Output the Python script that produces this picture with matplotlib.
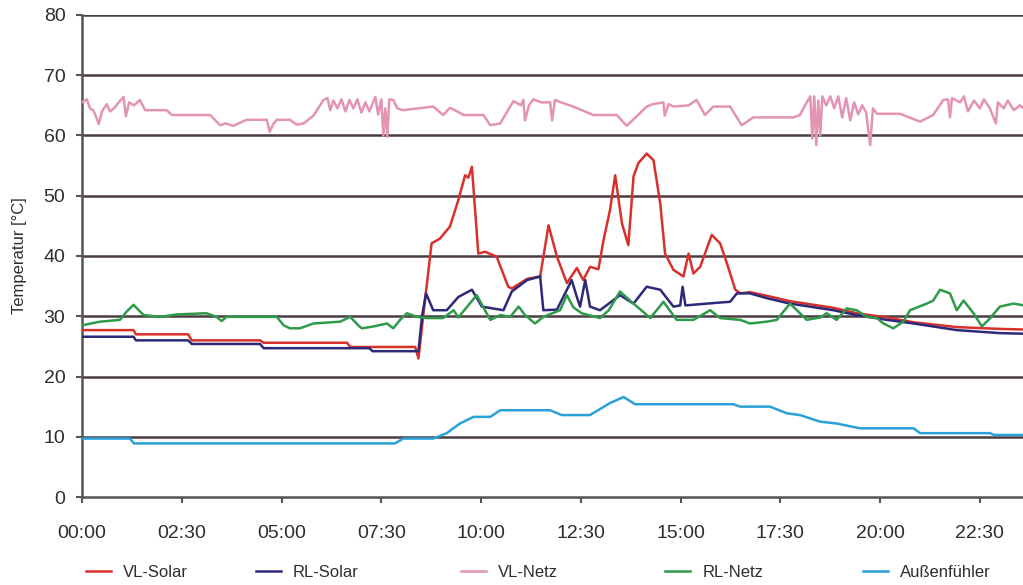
import matplotlib
matplotlib.use("Agg")
import matplotlib.pyplot as plt
from matplotlib.ticker import FixedLocator

plt.rcParams['font.family'] = ['Liberation Sans Narrow', 'Liberation Sans', 'DejaVu Sans']

# hours of the day and temperatures in degC
vl_solar_t = [0, 1.29, 1.35, 2.66, 2.75, 4.46, 4.55, 6.64, 6.72, 8.35, 8.43, 8.6, 8.76, 8.97,
              9.22, 9.43, 9.6, 9.68, 9.77, 9.93, 10.1, 10.39, 10.68, 10.77, 11.15, 11.48, 11.69,
              11.9, 12.15, 12.4, 12.56, 12.73, 12.94, 13.07, 13.23, 13.36, 13.53, 13.69, 13.82,
              13.94, 14.15, 14.32, 14.49, 14.61, 14.82, 15.07, 15.2, 15.32, 15.49, 15.78, 15.99,
              16.16, 16.37, 16.5, 16.74, 17.16, 17.74, 18.83, 19.41, 20.17, 20.84, 21.92, 23.0, 23.6]
vl_solar = [27.7, 27.7, 27.0, 27.0, 26.0, 26.0, 25.6, 25.6, 24.9, 24.9, 23.0, 33.0, 42.1, 42.9,
            44.9, 49.3, 53.4, 53.0, 54.8, 40.4, 40.7, 39.9, 34.9, 34.6, 36.2, 36.6, 45.1,
            39.9, 35.5, 38.0, 36.0, 38.2, 37.8, 42.7, 47.6, 53.4, 45.4, 41.8, 53.2,
            55.4, 57.0, 55.9, 48.7, 40.4, 37.7, 36.6, 40.4, 37.1, 38.2, 43.5, 42.1,
            38.8, 34.4, 33.8, 34.0, 33.4, 32.5, 31.4, 30.5, 29.8, 29.0, 28.2, 27.9, 27.8]

rl_solar_t = [0, 1.29, 1.35, 2.66, 2.75, 4.46, 4.55, 7.2, 7.28, 8.43, 8.52, 8.62, 8.8, 9.14,
              9.43, 9.77, 10.02, 10.56, 10.77, 11.15, 11.48, 11.56, 11.9, 12.15, 12.27, 12.4,
              12.48, 12.61, 12.73, 12.98, 13.48, 13.82, 14.15, 14.49, 14.82, 14.99, 15.05, 15.12,
              15.66, 16.24, 16.41, 16.74, 17.16, 17.74, 18.83, 19.41, 20.17, 20.84, 21.92, 23.0, 23.6]
rl_solar = [26.6, 26.6, 26.0, 26.0, 25.4, 25.4, 24.7, 24.7, 24.2, 24.2, 30.0, 33.8, 31.0, 31.0,
            33.2, 34.4, 31.6, 31.0, 34.1, 36.0, 36.6, 31.0, 31.1, 34.4, 36.0, 33.2,
            31.6, 36.0, 31.6, 31.0, 33.5, 32.1, 34.9, 34.4, 31.6, 31.8, 34.9, 31.8,
            32.1, 32.4, 33.8, 33.8, 33.0, 32.1, 31.0, 30.2, 29.4, 28.8, 27.7, 27.2, 27.1]

vl_netz_t = [0, 0.12, 0.2, 0.28, 0.36, 0.42, 0.5, 0.62, 0.7, 0.8, 0.92, 1.04, 1.1, 1.18, 1.3,
             1.45, 1.58, 2.12, 2.25, 3.21, 3.46, 3.6, 3.79, 4.12, 4.63, 4.7, 4.8, 4.88, 5.21,
             5.38, 5.55, 5.8, 6.05, 6.15, 6.22, 6.3, 6.4, 6.5, 6.6, 6.7, 6.8, 6.9, 7.0, 7.1,
             7.2, 7.35, 7.42, 7.5, 7.55, 7.6, 7.65, 7.7, 7.8, 7.9, 8.05, 8.8, 9.05, 9.22, 9.4,
             9.56, 10.06, 10.23, 10.48, 10.81, 11.0, 11.06, 11.1, 11.2, 11.31, 11.5, 11.73,
             11.78, 11.85, 12.0, 12.31, 12.81, 13.4, 13.65, 14.15, 14.3, 14.57, 14.6, 14.7,
             14.82, 15.2, 15.4, 15.61, 15.82, 16.24, 16.53, 16.82, 17.83, 17.99, 18.16, 18.25,
             18.3, 18.35, 18.4, 18.45, 18.5, 18.55, 18.65, 18.75, 18.85, 18.95, 19.05, 19.15,
             19.25, 19.35, 19.45, 19.55, 19.65, 19.75, 19.82, 19.92, 20.5, 21.0, 21.33, 21.58,
             21.7, 21.75, 21.8, 22.0, 22.1, 22.2, 22.35, 22.5, 22.6, 22.75, 22.9, 22.95, 23.1,
             23.2, 23.35, 23.5, 23.6]
vl_netz = [65.5, 66.0, 64.5, 64.2, 63.0, 61.9, 64.0, 65.2, 64.0, 64.5, 65.5, 66.4, 63.2, 65.5, 65.0,
           65.9, 64.2, 64.2, 63.4, 63.4, 61.7, 62.0, 61.6, 62.6, 62.6, 60.6, 62.0, 62.6, 62.6,
           61.8, 62.0, 63.3, 65.9, 66.2, 64.2, 65.8, 64.5, 66.0, 64.0, 65.9, 64.5, 66.0, 63.8, 65.5,
           64.0, 66.4, 63.5, 66.0, 60.0, 64.5, 59.8, 66.0, 65.9, 64.5, 64.2, 64.8, 63.4, 64.6, 64.0,
           63.4, 63.4, 61.7, 62.0, 65.7, 65.0, 65.9, 62.5, 65.0, 66.0, 65.5, 65.5,
           62.5, 65.9, 65.5, 64.8, 63.4, 63.4, 61.6, 64.8, 65.2, 65.5, 63.3, 65.2,
           64.8, 65.0, 65.9, 63.4, 64.8, 64.8, 61.7, 63.0, 63.0, 63.4, 65.5, 66.5,
           59.5, 66.5, 58.4, 65.8, 60.0, 66.5, 65.0, 66.5, 64.5, 66.5, 63.0, 66.2,
           62.5, 65.5, 63.5, 65.0, 63.8, 58.4, 64.5, 63.6, 63.6, 62.3, 63.4, 65.9,
           66.0, 63.0, 66.2, 65.5, 66.5, 64.0, 65.8, 64.5, 66.0, 64.5, 62.0, 65.5, 64.5,
           65.8, 64.2, 65.0, 64.5]

rl_netz_t = [0, 0.45, 0.95, 1.12, 1.29, 1.54, 1.95, 2.37, 3.12, 3.37, 3.5, 3.62, 4.88, 5.05,
             5.21, 5.46, 5.8, 6.47, 6.72, 6.92, 7.01, 7.3, 7.64, 7.8, 7.97, 8.14, 8.39, 8.64,
             9.05, 9.31, 9.43, 9.64, 9.89, 10.23, 10.48, 10.73, 10.94, 11.1, 11.35, 11.56, 11.98,
             12.15, 12.31, 12.52, 12.98, 13.2, 13.48, 13.82, 14.24, 14.57, 14.9, 15.32, 15.74,
             15.99, 16.49, 16.74, 17.16, 17.41, 17.74, 17.99, 18.16, 18.5, 18.66, 18.91, 19.16,
             19.41, 19.66, 19.92, 20.08, 20.33, 20.58, 20.75, 21.17, 21.33, 21.5, 21.75, 21.92,
             22.09, 22.34, 22.55, 22.76, 23.0, 23.34, 23.6]
rl_netz = [28.5, 29.1, 29.4, 30.8, 31.9, 30.2, 29.9, 30.3, 30.5, 29.9, 29.2, 29.9, 29.9, 28.5,
           28.0, 28.0, 28.8, 29.1, 29.9, 28.5, 28.0, 28.3, 28.8, 28.0, 29.4, 30.5, 29.9, 29.7,
           29.7, 31.0, 29.8, 31.5, 33.5, 29.4, 30.2, 29.9, 31.6, 30.2, 28.8, 29.9, 31.0,
           33.5, 31.5, 30.5, 29.7, 31.0, 34.1, 32.1, 29.7, 32.4, 29.4, 29.4, 31.0,
           29.7, 29.4, 28.8, 29.1, 29.4, 32.1, 30.5, 29.4, 29.8, 30.5, 29.4, 31.3,
           31.0, 29.9, 29.7, 28.8, 28.0, 29.1, 31.0, 32.1, 32.6, 34.4, 33.8, 31.0,
           32.6, 30.5, 28.3, 29.7, 31.6, 32.1, 31.8]

aussen_t = [0, 1.2, 1.3, 7.84, 8.05, 8.8, 9.14, 9.47, 9.81, 10.23, 10.48, 11.73, 12.02, 12.73,
            13.23, 13.57, 13.86, 16.32, 16.49, 17.24, 17.66, 17.99, 18.5, 18.91, 19.5, 20.84,
            21.0, 22.76, 22.85, 23.6]
aussen = [9.7, 9.7, 8.9, 8.9, 9.7, 9.7, 10.6, 12.2, 13.3, 13.3, 14.4, 14.4, 13.6, 13.6,
          15.6, 16.6, 15.4, 15.4, 15.0, 15.0, 13.9, 13.6, 12.5, 12.2, 11.4, 11.4,
          10.6, 10.6, 10.3, 10.3]

tick_hours = [0, 2.5, 5, 7.5, 10, 12.5, 15, 17.5, 20, 22.5]
tick_labels = ['00:00', '02:30', '05:00', '07:30', '10:00', '12:30', '15:00', '17:30', '20:00', '22:30']

series = [
    ('VL-Solar', vl_solar_t, vl_solar, '#d8312c'),
    ('RL-Solar', rl_solar_t, rl_solar, '#2c2a78'),
    ('VL-Netz', vl_netz_t, vl_netz, '#e393b4'),
    ('RL-Netz', rl_netz_t, rl_netz, '#2f9a49'),
    ('Außenfühler', aussen_t, aussen, '#2aa1d9'),
]

fig = plt.figure(figsize=(10.23, 5.85), dpi=100)
ax = fig.add_axes([0.0802, 0.1504, 0.9198, 0.824])

# dark horizontal gridlines every 10 degrees
for v in range(10, 90, 10):
    ax.axhline(v, color='#4a3c42', lw=1.8, zorder=1)

handles = []
for name, t, v, c in series:
    h, = ax.plot(t, v, color=c, lw=1.8, label=name, zorder=3)
    handles.append(h)

ax.set_xlim(0, 23.58)
ax.set_ylim(0, 80)
ax.yaxis.set_major_locator(FixedLocator(range(0, 90, 10)))
ax.set_xticks(tick_hours)
ax.set_xticklabels(tick_labels)

for s in ['top', 'right']:
    ax.spines[s].set_visible(False)
for s in ['left', 'bottom']:
    ax.spines[s].set_color('#555555')
    ax.spines[s].set_linewidth(1.8)

ax.tick_params(axis='both', colors='#555555', length=4, width=1.5, labelsize=14,
               labelcolor='#2e2e2e')
ax.tick_params(axis='x', pad=16)
ax.tick_params(axis='y', pad=8)
ax.set_ylabel('Temperatur [°C]', fontsize=12, color='#2e2e2e', labelpad=12)

# legend row under the axis
legend_x = [0.078, 0.244, 0.444, 0.644, 0.837]
for h, lx in zip(handles, legend_x):
    leg = fig.legend([h], [h.get_label()], loc='center left', bbox_to_anchor=(lx, 0.022),
                     frameon=False, fontsize=12, handlelength=1.5, handletextpad=0.7,
                     borderaxespad=0)
    for txt in leg.get_texts():
        txt.set_color('#2e2e2e')

fig.savefig('out.png', dpi=100)
